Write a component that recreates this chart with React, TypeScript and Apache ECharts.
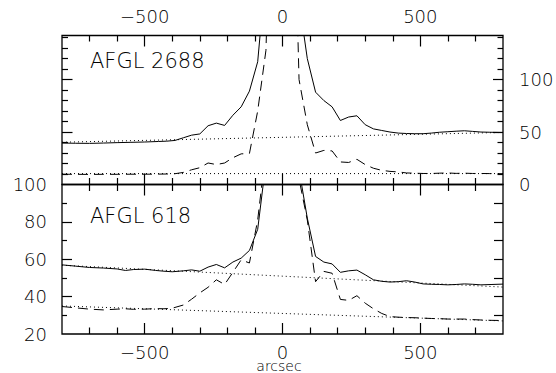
import React, { useEffect, useRef } from "react";
import * as echarts from "echarts";

// ---------- data ----------
// AFGL 2688 (upper panel)
const x2688 = [-800, -750, -700, -650, -600, -550, -500, -450, -420, -390, -360, -330, -300, -270, -240, -210, -180, -150, -120, -90, -60, -30, 0, 30, 60, 90, 120, 150, 180, 210, 240, 270, 300, 330, 360, 390, 420, 450, 480, 510, 540, 570, 600, 630, 660, 690, 720, 750, 800];
const solid2688 = [39.5, 39.3, 39.2, 39.5, 39.9, 40.2, 40.5, 41.0, 41.3, 42.0, 44.5, 47.0, 48.2, 56.0, 58.5, 56.3, 66.0, 74.0, 89.0, 117, 205, 500, 700, 500, 175, 120, 88, 80, 74, 61, 64.3, 65.5, 57, 53, 51.5, 50, 49, 48.6, 48.4, 48.4, 49, 49.8, 50.3, 50.8, 51.2, 50.6, 50, 49.8, 49.6];
const dashed2688 = [9.8, 9.7, 9.6, 9.7, 9.7, 9.8, 9.8, 9.9, 10, 10.3, 11.5, 14, 16, 20.5, 19, 20.5, 25.5, 29.2, 29.5, 70, 128, 400, 600, 400, 100, 57, 30, 32.5, 32, 21.5, 21, 24, 19, 15.5, 13.5, 12.5, 12, 11, 10.8, 10.5, 10.5, 10.8, 11, 10.6, 10.8, 10.5, 10.5, 10.4, 10.3];
const baseHigh2688 = [[-800, 40.3], [800, 49.6]];
const baseLow2688 = [[-800, 10.4], [800, 10.4]];

// AFGL 618 (lower panel)
const x618 = [-800, -750, -700, -650, -600, -570, -540, -500, -460, -430, -400, -360, -330, -300, -270, -240, -210, -180, -150, -120, -90, -60, -30, 0, 30, 60, 90, 120, 150, 180, 210, 240, 270, 300, 330, 360, 390, 420, 450, 480, 510, 540, 570, 600, 630, 660, 690, 720, 760, 800];
const solid618 = [57, 56.3, 55.6, 55.3, 54.8, 54, 54.5, 54.7, 54, 53.6, 53.3, 53.8, 54.3, 53.6, 55.8, 57.2, 55.4, 58.5, 60.6, 64.7, 76, 112, 400, 600, 400, 108, 82, 61.5, 58.5, 57.5, 53, 53.8, 54.2, 51.7, 49, 48.2, 47.8, 48, 48.5, 47.8, 46.8, 46.6, 46.5, 46.3, 46.5, 46.8, 46.6, 46.3, 46.5, 46.7];
const dashed618 = [34.7, 34, 33.3, 32.9, 33.3, 33.5, 33.2, 33.3, 33.6, 33.5, 33.8, 35.5, 38.6, 42, 45, 49, 46.5, 53, 59.7, 58, 81, 119, 400, 600, 400, 103, 81, 48, 53.5, 52.5, 38.5, 38, 40.5, 36.5, 33.5, 31, 29.3, 29, 28.8, 28.7, 28.5, 28.3, 28.2, 28, 28, 28, 27.7, 27.5, 27.3, 27.2];
const baseHigh618 = [[-800, 56.8], [800, 45.1]];
const baseLow618 = [[-800, 35], [800, 27]];

// ticks and labels
const xMinorTicks = [-700, -600, -400, -300, -200, -100, 100, 200, 300, 400, 600, 700];
const xMajorTicks = [-500, 0, 500];
const xLabels = [-500, 0, 500];
const y2688MinorTicks = [10, 20, 30, 40, 60, 70, 80, 90, 110, 120, 130, 140];
const y2688MajorTicks = [50, 100];
const y2688Labels = [0, 50, 100];
const y618MinorTicks = [30, 50, 70, 90];
const y618MajorTicks = [40, 60, 80];
const y618RightTicks = [30, 40, 50, 60, 70, 80, 90];
const y618Labels = [20, 40, 60, 80, 100];

const FONT = "DejaVu Sans";
const WEIGHT = 200;
const X_MIN = -800;
const X_MAX = 800;
const Y1 = { min: 0, max: 142 };
const Y2 = { min: 20, max: 100 };

const fmt = (v: number) => (v < 0 ? "\u2212" + Math.abs(v) : String(v));

function tickAxis(
  gridIndex: number,
  position: string,
  min: number,
  max: number,
  ticks: number[],
  length: number,
  labels?: number[],
  margin?: number,
  lineHeight?: number
) {
  return {
    type: "value",
    gridIndex,
    position,
    min,
    max,
    axisLine: { show: false, onZero: false },
    splitLine: { show: false },
    axisTick: {
      show: ticks.length > 0,
      inside: true,
      length,
      customValues: ticks,
      lineStyle: { color: "#000", width: 1.2 },
    },
    axisLabel: labels
      ? {
          show: true,
          customValues: labels,
          formatter: fmt,
          color: "#000",
          fontFamily: FONT,
          fontWeight: WEIGHT,
          fontSize: 18,
          lineHeight: lineHeight ?? 18,
          margin: margin ?? 10,
        }
      : { show: false },
  };
}

function pairs(xs: number[], ys: number[]) {
  return xs.map((x, i) => [x, ys[i]]);
}

export default function App() {
  const ref = useRef<HTMLDivElement>(null);
  useEffect(() => {
    if (!ref.current) return;
    const chart = echarts.init(ref.current, undefined, { renderer: "svg" });

    const xAxis = [
      // grid 0
      tickAxis(0, "bottom", X_MIN, X_MAX, xMinorTicks, 6.5),
      tickAxis(0, "bottom", X_MIN, X_MAX, xMajorTicks, 11),
      tickAxis(0, "top", X_MIN, X_MAX, xMinorTicks, 6),
      tickAxis(0, "top", X_MIN, X_MAX, xMajorTicks, 11, xLabels, 10),
      // grid 1
      tickAxis(1, "bottom", X_MIN, X_MAX, xMinorTicks, 6.5),
      tickAxis(1, "bottom", X_MIN, X_MAX, xMajorTicks, 11, xLabels, 11.5, 14),
      tickAxis(1, "top", X_MIN, X_MAX, xMinorTicks, 6.5),
      tickAxis(1, "top", X_MIN, X_MAX, xMajorTicks, 11),
    ];
    const yAxis = [
      // grid 0
      tickAxis(0, "left", Y1.min, Y1.max, y2688MinorTicks, 6),
      tickAxis(0, "left", Y1.min, Y1.max, y2688MajorTicks, 10.5),
      tickAxis(0, "right", Y1.min, Y1.max, y2688MinorTicks, 5.5),
      tickAxis(0, "right", Y1.min, Y1.max, y2688MajorTicks, 10, y2688Labels, 16),
      // grid 1
      tickAxis(1, "left", Y2.min, Y2.max, y618MinorTicks, 5),
      tickAxis(1, "left", Y2.min, Y2.max, y618MajorTicks, 10, y618Labels, 15),
      tickAxis(1, "right", Y2.min, Y2.max, y618RightTicks, 9),
      tickAxis(1, "right", Y2.min, Y2.max, [], 9),
    ];

    const solid = { color: "#000", width: 1, type: "solid" };
    const dashed = { color: "#000", width: 1, type: [10, 6] };
    const dotted = { color: "#000", width: 1, type: [1, 3] };
    const mk = (name: string, data: number[][], g: number, ls: any) => ({
      name,
      type: "line",
      xAxisIndex: g * 4,
      yAxisIndex: g * 4,
      data,
      showSymbol: false,
      symbol: "none",
      clip: true,
      lineStyle: ls,
      z: 3,
    });

    chart.setOption({
      animation: false,
      backgroundColor: "#fff",
      grid: [
        { left: 62, top: 35.5, width: 441, height: 149, show: true, borderColor: "#000", borderWidth: 1.3, backgroundColor: "transparent", containLabel: false, outerBoundsMode: "none" },
        { left: 62, top: 184.5, width: 441, height: 149.5, show: true, borderColor: "#000", borderWidth: 1.3, backgroundColor: "transparent", containLabel: false, outerBoundsMode: "none" },
      ],
      xAxis,
      yAxis,
      series: [
        mk("solid2688", pairs(x2688, solid2688), 0, solid),
        mk("dashed2688", pairs(x2688, dashed2688), 0, dashed),
        mk("baseHigh2688", baseHigh2688, 0, dotted),
        mk("baseLow2688", baseLow2688, 0, dotted),
        mk("solid618", pairs(x618, solid618), 1, solid),
        mk("dashed618", pairs(x618, dashed618), 1, dashed),
        mk("baseHigh618", baseHigh618, 1, dotted),
        mk("baseLow618", baseLow618, 1, dotted),
      ],
      graphic: [
        {
          type: "text",
          x: 90,
          y: 61,
          style: { text: "AFGL 2688", fill: "#000", font: `${WEIGHT} 21px "${FONT}"`, align: "left", verticalAlign: "middle" },
        },
        {
          type: "text",
          x: 90,
          y: 215.5,
          style: { text: "AFGL 618", fill: "#000", font: `${WEIGHT} 21px "${FONT}"`, align: "left", verticalAlign: "middle" },
        },
        {
          type: "text",
          x: 279,
          y: 366,
          style: { text: "arcsec", fill: "#000", font: `${WEIGHT} 14px "${FONT}"`, lineHeight: 10, align: "center", verticalAlign: "middle" },
        },
      ],
    });
    return () => chart.dispose();
  }, []);
  return (
    <div
      ref={ref}
      style={{ position: "fixed", left: 0, top: 0, width: 556, height: 373, background: "#fff" }}
    />
  );
}
